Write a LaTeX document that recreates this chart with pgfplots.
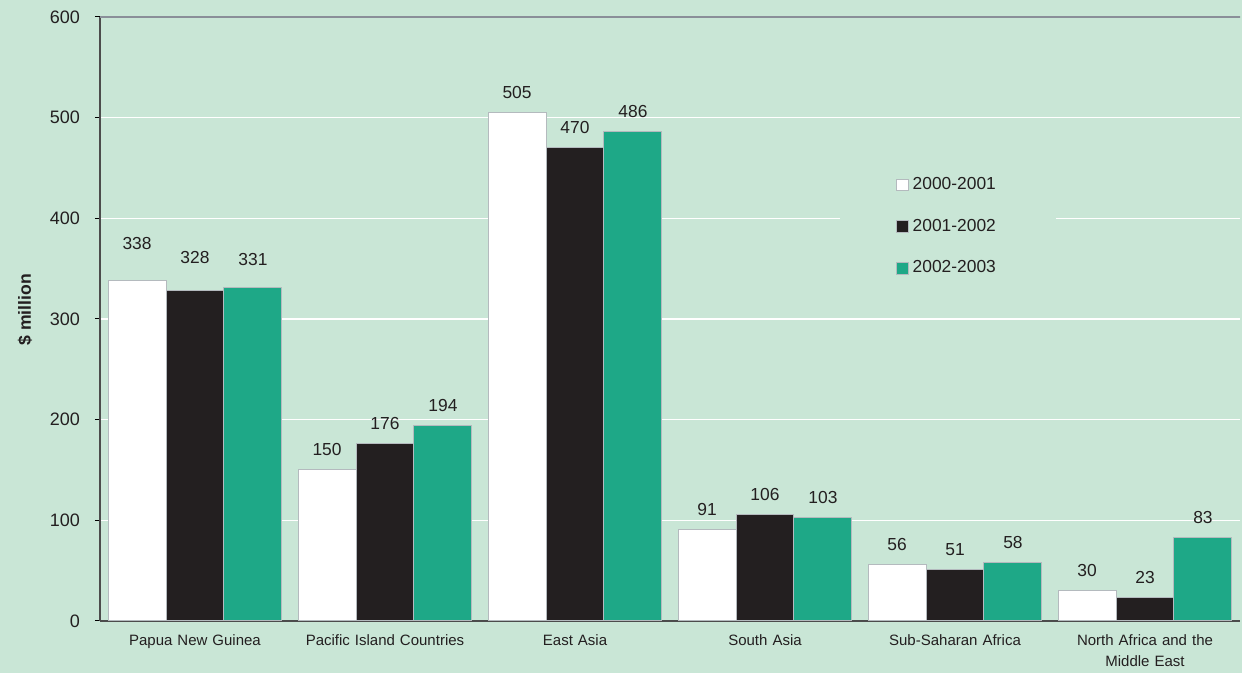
\documentclass[border=0pt]{standalone}
\usepackage{pgfplots}
\pgfplotsset{compat=1.18}
\usepackage{pgfplotstable}
\usepackage{fontspec}
\setmainfont{Liberation Sans}
\definecolor{bg}{RGB}{201,230,214}
\definecolor{teal}{RGB}{30,168,135}
\definecolor{blk}{RGB}{35,31,32}
\definecolor{edge}{RGB}{180,186,190}
\definecolor{topline}{RGB}{138,143,153}
\definecolor{txt}{RGB}{35,31,32}

\pgfplotstableread{
x y lift
0 338 8.5
1 150 0
2 505 0
3 91 0
4 56 0
5 30 0
}\tA
\pgfplotstableread{
x y lift
0 328 6.5
1 176 0
2 470 0
3 106 0
4 51 0
5 23 0
}\tB
\pgfplotstableread{
x y lift
0 331 4
1 194 0
2 486 0
3 103 0
4 58 0
5 83 0
}\tC

\begin{document}
\begin{tikzpicture}
\fill[bg] (-50pt,-26pt) rectangle (571pt,310.5pt);
\begin{axis}[
  at={(0,0)}, anchor=south west,
  scale only axis, width=570pt, height=302pt,
  ybar=0pt, bar width=0.305,
  xmin=-0.5, xmax=5.5, ymin=0, ymax=600,
  ytick={0,100,...,600},
  xtick=data,
  xticklabels={Papua New Guinea,Pacific Island Countries,East Asia,South Asia,Sub-Saharan Africa,{North Africa and the\\Middle East}},
  xticklabel style={font=\fontsize{7.5pt}{10.6pt}\selectfont, text=txt, align=center, text width=110pt, yshift=-0.8pt},
  yticklabel style={font=\fontsize{9pt}{11pt}\selectfont, text=txt, xshift=-4pt},
  /pgf/number format/assume math mode=true,
  axis x line*=bottom, axis y line*=left,
  axis line style={-, draw=black!70, line width=0.6pt},
  x tick style={draw=none},
  y tick style={draw=black, line width=0.5pt},
  tick align=outside, major tick length=2.5pt,
  ymajorgrids, grid style={white, line width=0.75pt},
  ylabel={\textbf{\$ million}},
  ylabel style={at={(axis description cs:-0.0658,0.515)}, anchor=center, font=\fontsize{8.8pt}{10pt}\selectfont, text=txt},
  nodes near coords,
  every node near coord/.append style={font=\fontsize{8.7pt}{10pt}\selectfont, text=txt, anchor=base, inner sep=0pt, yshift=7pt+\lift pt},
  visualization depends on={\thisrow{lift}\as\lift},
  legend style={at={(axis description cs:0.649,0.762)}, anchor=north west, fill=bg, draw=none,
    font=\fontsize{8.7pt}{10pt}\selectfont, text=txt, row sep=9.3pt, inner xsep=28pt, inner ysep=6pt,
    /tikz/every even column/.append style={column sep=2pt}},
  legend cell align=left,
  legend image code/.code={\draw[#1, draw=edge, line width=0.4pt] (0pt,-2.9pt) rectangle (5.8pt,2.9pt);},
]
\addplot[fill=white, draw=edge, line width=0.5pt] table[x=x,y=y] {\tA};
\addplot[fill=blk, draw=edge, line width=0.5pt] table[x=x,y=y] {\tB};
\addplot[fill=teal, draw=edge, line width=0.5pt] table[x=x,y=y] {\tC};
\legend{2000-2001,2001-2002,2002-2003}
\draw[topline, line width=0.6pt] (rel axis cs:0,1) -- (rel axis cs:1.002,1);
\end{axis}
\pgfresetboundingbox
\path[use as bounding box] (-50pt,-26pt) rectangle (571pt,310.5pt);
\end{tikzpicture}
\end{document}
